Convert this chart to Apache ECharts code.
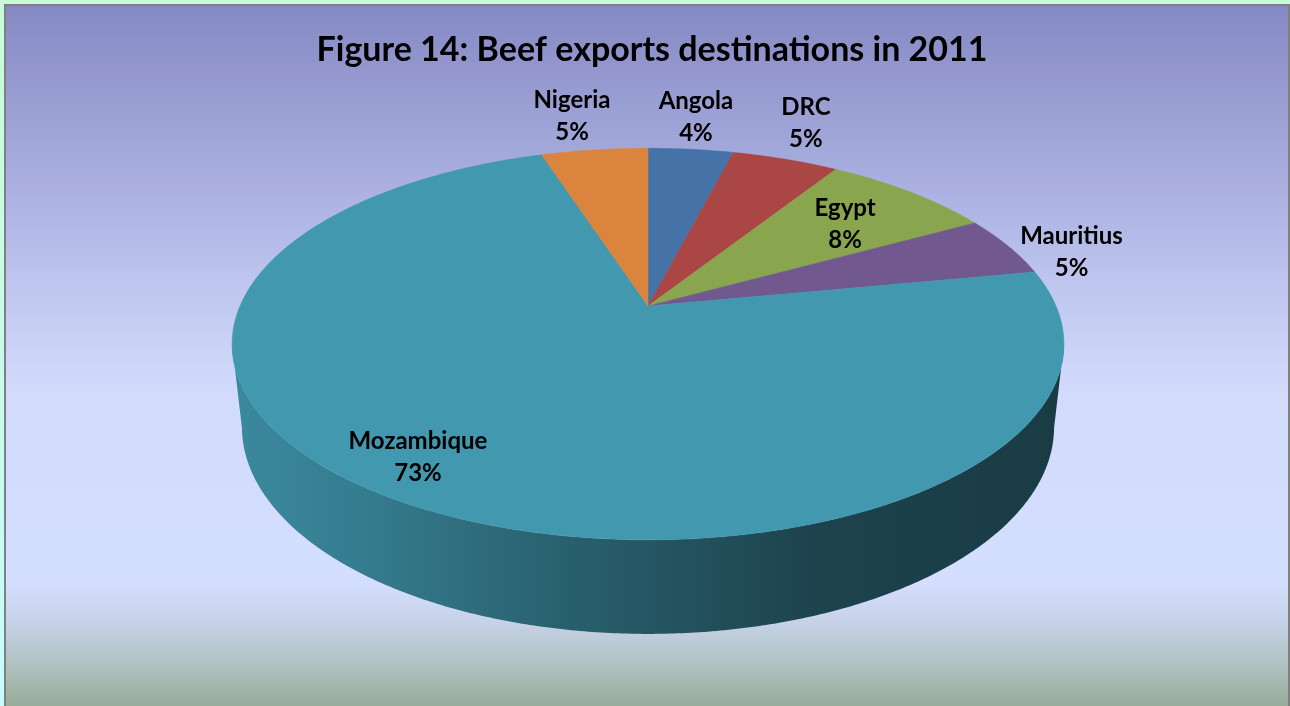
<!DOCTYPE html>
<html>
<head>
<meta charset="utf-8">
<title>Beef exports destinations in 2011</title>
<script src="https://cdn.jsdelivr.net/npm/echarts@6/dist/echarts.min.js"></script>
<style>
  html, body { margin: 0; padding: 0; }
  body { width: 1290px; height: 706px; background: linear-gradient(#c8fcd8, #c8fcfc); overflow: hidden; }
  #chart { width: 1290px; height: 706px; }
</style>
</head>
<body>
<div id="chart"></div>
<script>
// Export destinations, share of total (%)
const categories = ['Angola', 'DRC', 'Egypt', 'Mauritius', 'Mozambique', 'Nigeria'];
const shares = [4, 5, 8, 5, 73, 5];
const titleText = 'Figure 14: Beef exports destinations in 2011';

// Slice colours
const sliceColors = ['#4572A7', '#AA4643', '#89A54E', '#71588F', '#4198AF', '#DB843D'];

// Label placement: radius factor and angular nudge (deg) relative to the slice middle
const labelRadius = [1.25, 1.29, 0.71, 1.14, 0.85, 1.27];
const labelNudge = [-0.5, -1.7, 1.2, 4.4, 4.4, -1.5];

// Perspective geometry of the tilted disc
const geo = {
  cx: 648, cy: 306,   // projected centre of the top face
  scale: 408,         // pixels per unit radius at the centre depth
  dist: 4.566,        // camera distance (in radii)
  tilt: 27.5,         // viewing elevation (deg)
  depth: 0.2306       // thickness of the disc (in radii)
};
const cosT = Math.cos(geo.tilt * Math.PI / 180);
const sinT = Math.sin(geo.tilt * Math.PI / 180);
const focal = geo.scale * geo.dist;

// angle: degrees clockwise from 12 o'clock; r: radius factor; z: 0 top, negative below
function project(angle, r, z) {
  const t = (angle - 90) * Math.PI / 180;
  const X = r * Math.cos(t);
  const Y = r * Math.sin(t);
  const v = Y * sinT - z * cosT;
  const d = geo.dist - Y * cosT - z * sinT;
  return [geo.cx + focal * X / d, geo.cy + focal * v / d];
}

function shade(hex, k) {
  const n = parseInt(hex.slice(1), 16);
  const ch = [(n >> 16) & 255, (n >> 8) & 255, n & 255].map(c => Math.round(c * k));
  return 'rgb(' + ch.join(',') + ')';
}

const total = shares.reduce((a, b) => a + b, 0);
const starts = [];
shares.reduce((acc, v, i) => { starts[i] = acc; return acc + v; }, 0);

// visible front band of the side wall (between the two silhouette generators)
const silhouette = Math.asin(cosT / geo.dist) * 180 / Math.PI;
const frontFrom = 90 + silhouette;
const frontTo = 270 - silhouette;

function arc(a0, a1, r, z, out) {
  const steps = Math.max(2, Math.ceil(Math.abs(a1 - a0) / 0.5));
  for (let k = 0; k <= steps; k++) {
    out.push(project(a0 + (a1 - a0) * k / steps, r, z));
  }
  return out;
}

function renderItem(params, api) {
  const i = params.dataIndex;
  const value = api.value(0);
  const a0 = starts[i] / total * 360;
  const a1 = (starts[i] + value) / total * 360;
  const color = sliceColors[i];
  const children = [];

  // side wall
  const w0 = Math.max(a0, frontFrom), w1 = Math.min(a1, frontTo);
  if (w1 > w0) {
    const pts = arc(w0, w1, 1, 0, []);
    arc(w1, w0, 1, -geo.depth, pts);
    const left = project(frontTo, 1, 0)[0];
    const right = project(frontFrom, 1, 0)[0];
    children.push({
      type: 'polygon',
      z2: 1,
      shape: { points: pts },
      style: {
        fill: {
          type: 'linear', x: left, y: 0, x2: right, y2: 0, global: true,
          colorStops: [
            { offset: 0, color: shade(color, 0.90) },
            { offset: 0.15, color: shade(color, 0.82) },
            { offset: 0.4, color: shade(color, 0.63) },
            { offset: 0.7, color: shade(color, 0.44) },
            { offset: 1, color: shade(color, 0.39) }
          ]
        }
      }
    });
  }

  // top face
  const top = [project(0, 0, 0)];
  arc(a0, a1, 1, 0, top);
  children.push({
    type: 'polygon',
    z2: 2,
    shape: { points: top },
    style: { fill: color, stroke: color, lineWidth: 0.5 }
  });

  // label
  const mid = (a0 + a1) / 2 + labelNudge[i];
  const p = project(mid, labelRadius[i], 0);
  children.push({
    type: 'text',
    z2: 3,
    x: p[0], y: p[1],
    style: {
      text: categories[i] + '\n' + Math.round(value / total * 100) + '%',
      align: 'center',
      verticalAlign: 'middle',
      fontFamily: 'Lato',
      fontWeight: 'bold',
      fontSize: 24,
      lineHeight: 32,
      fill: '#000'
    }
  });

  return { type: 'group', children: children };
}

const chart = echarts.init(document.getElementById('chart'), null, { renderer: 'canvas' });
chart.setOption({
  backgroundColor: 'transparent',
  animation: false,
  title: {
    text: titleText,
    left: 647,
    textAlign: 'center',
    top: 28,
    textStyle: { fontFamily: 'Lato', fontWeight: 'bold', fontSize: 34, color: '#000' }
  },
  graphic: [{
    type: 'rect',
    z: -10,
    shape: { x: 5, y: 5, width: 1284, height: 704 },
    style: {
      stroke: '#808080',
      lineWidth: 2,
      fill: {
        type: 'linear', x: 0, y: 0, x2: 0, y2: 1,
        colorStops: [
          { offset: 0, color: '#8589c3' },
          { offset: 0.2, color: '#a2a7da' },
          { offset: 0.4, color: '#bfc6ef' },
          { offset: 0.55, color: '#d2dbfc' },
          { offset: 0.82, color: '#d4defe' },
          { offset: 0.87, color: '#c8d3ea' },
          { offset: 0.93, color: '#b3c3c5' },
          { offset: 1, color: '#95ab95' }
        ]
      }
    }
  }],
  series: [{
    type: 'custom',
    coordinateSystem: 'none',
    renderItem: renderItem,
    data: shares.map((v, i) => [v, i])
  }]
});
</script>
</body>
</html>
